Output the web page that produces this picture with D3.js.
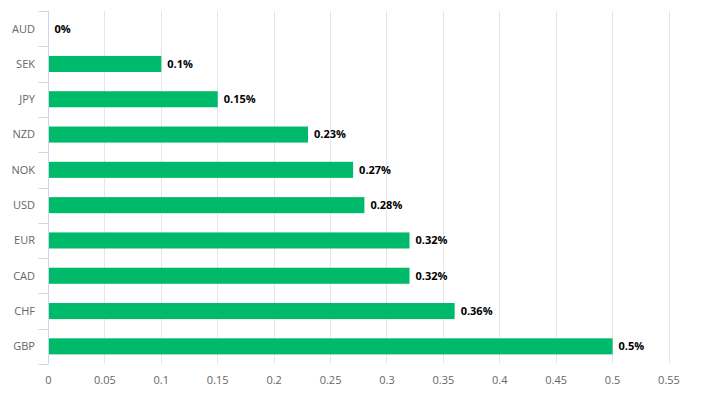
<html>
<head>
<script src="https://cdn.jsdelivr.net/npm/d3@7"></script>
<style>
  body { margin: 0; background: #fff; }
  text { font-family: "Open Sans", "DejaVu Sans", sans-serif; }
</style>
</head>
<body>
<svg id="container" width="703" height="399"></svg>
<script>
  let currencies = ["AUD", "SEK", "JPY", "NZD", "NOK", "USD", "EUR", "CAD", "CHF", "GBP"]
  let values = [0, 0.1, 0.15, 0.23, 0.27, 0.28, 0.32, 0.32, 0.36, 0.5]
  let xTicks = [0, 0.05, 0.1, 0.15, 0.2, 0.25, 0.3, 0.35, 0.4, 0.45, 0.5, 0.55]

  let svg = d3.select("#container")
  let plotLeft = 48.5, plotTop = 11, plotRight = 669, plotBottom = 364

  let x = d3.scaleLinear()
      .domain([0, 0.55])
      .range([plotLeft, plotRight])

  let y = d3.scaleBand()
      .domain(currencies)
      .range([plotTop, plotBottom])
      .paddingInner(0.545)
      .paddingOuter(0.2725)

  let band = d3.scaleBand().domain(currencies).range([plotTop, plotBottom])

  // vertical grid lines
  svg.append("g")
      .selectAll("line")
      .data(xTicks.slice(1))
      .enter().append("line")
      .attr("x1", d => Math.floor(x(d)) + 0.5)
      .attr("x2", d => Math.floor(x(d)) + 0.5)
      .attr("y1", plotTop)
      .attr("y2", plotBottom)
      .attr("stroke", "#e6e6e6")
      .attr("stroke-width", 1)

  // bars
  svg.append("g")
      .selectAll("rect")
      .data(currencies)
      .enter().append("rect")
      .attr("x", x(0) + 0.5)
      .attr("y", d => y(d))
      .attr("width", (d, i) => Math.max(0, x(values[i]) - x(0) - 0.5))
      .attr("height", y.bandwidth())
      .attr("fill", "#00ba6c")

  // value labels
  svg.append("g")
      .selectAll("text")
      .data(currencies)
      .enter().append("text")
      .attr("x", (d, i) => x(values[i]) + 6)
      .attr("y", d => y(d) + y.bandwidth() / 2)
      .attr("dy", "0.35em")
      .attr("font-size", 11)
      .attr("font-weight", "bold")
      .attr("fill", "#000")
      .attr("stroke", "#fff")
      .attr("stroke-width", 2)
      .attr("paint-order", "stroke")
      .text((d, i) => values[i] + "%")

  // y axis
  let yAxis = svg.append("g")
  yAxis.append("line")
      .attr("x1", plotLeft).attr("x2", plotLeft)
      .attr("y1", plotTop).attr("y2", plotBottom)
      .attr("stroke", "#ccd6eb")
  yAxis.selectAll(".tick")
      .data(currencies.concat(["end"]))
      .enter().append("line")
      .attr("x1", plotLeft - 10).attr("x2", plotLeft)
      .attr("y1", (d, i) => Math.round(plotTop + i * band.bandwidth()) + 0.5)
      .attr("y2", (d, i) => Math.round(plotTop + i * band.bandwidth()) + 0.5)
      .attr("stroke", "#ccd6eb")
  yAxis.selectAll("text")
      .data(currencies)
      .enter().append("text")
      .attr("x", 35)
      .attr("y", d => band(d) + band.bandwidth() / 2)
      .attr("dy", "0.35em")
      .attr("text-anchor", "end")
      .attr("font-size", 11)
      .attr("fill", "#666")
      .text(d => d)

  // x axis labels
  svg.append("g")
      .selectAll("text")
      .data(xTicks)
      .enter().append("text")
      .attr("x", d => x(d))
      .attr("y", 384)
      .attr("text-anchor", "middle")
      .attr("font-size", 11)
      .attr("fill", "#666")
      .text(d => d)
</script>
</body>
</html>
